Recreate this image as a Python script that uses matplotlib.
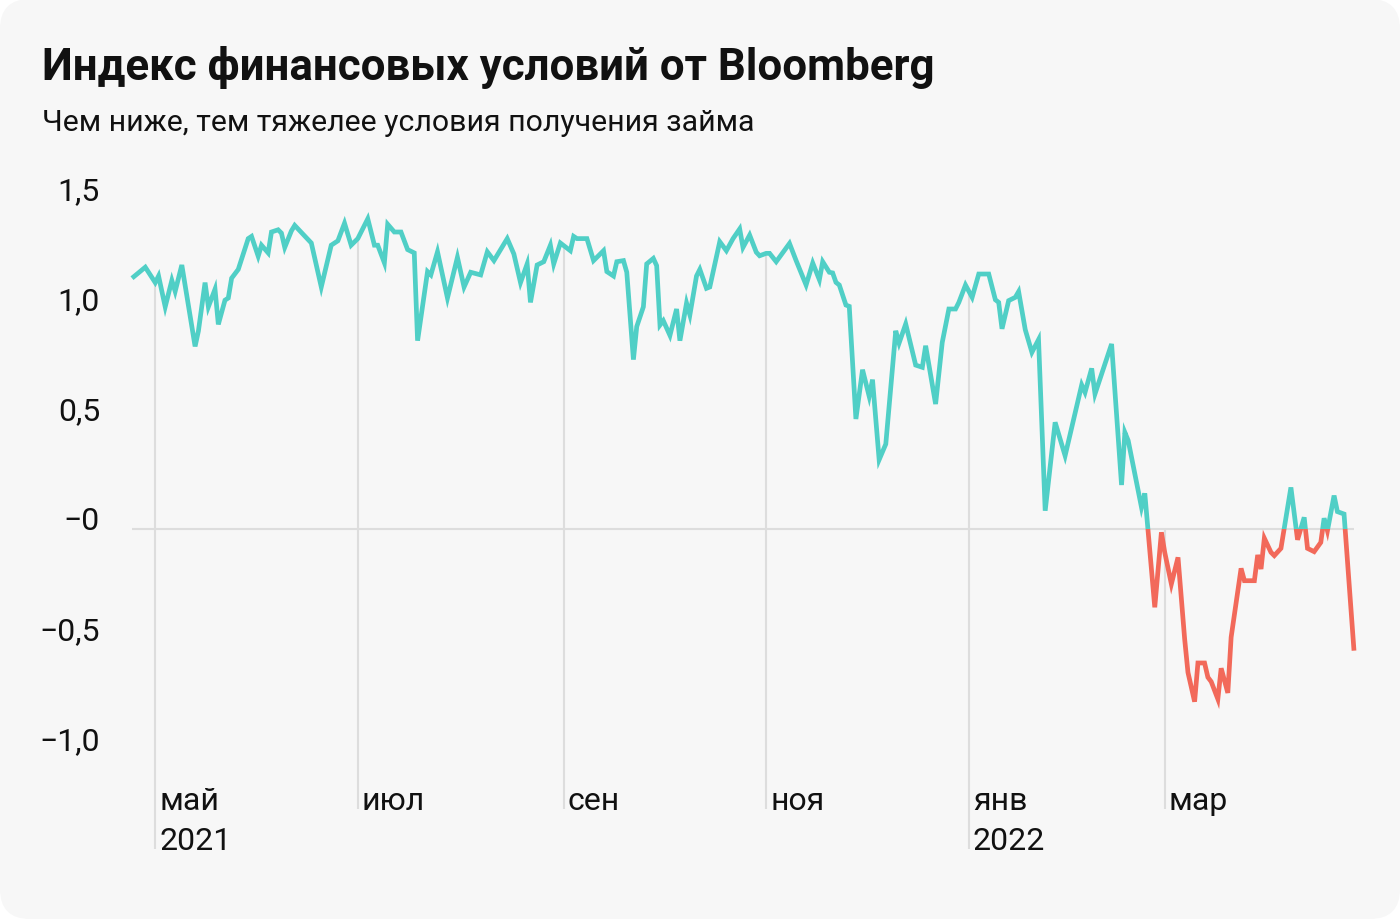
import numpy as np
import pandas as pd
import matplotlib
matplotlib.use("Agg")
import matplotlib.pyplot as plt
import matplotlib.dates as mdates
import matplotlib.transforms as mtransforms
from matplotlib.patches import FancyBboxPatch, Rectangle

plt.rcParams['font.family'] = ['Roboto', 'DejaVu Sans']

# ---------------- data ----------------
title = "Индекс финансовых условий от Bloomberg"
subtitle = "Чем ниже, тем тяжелее условия получения займа"

base_date = "2021-05-01"
day_offsets = [
    -7, -3, 0, 1, 3, 5, 6, 8, 12, 13, 15, 16, 18, 19, 21, 22, 23, 25, 28, 29,
    31, 32, 34, 35, 37, 38, 39, 41, 42, 47, 50, 53, 55, 57, 59, 61, 64, 66, 67, 69,
    70, 72, 74, 76, 78, 79, 82, 83, 85, 88, 91, 93, 95, 98, 100, 102, 106, 108, 110, 112,
    113, 115, 117, 119, 120, 122, 125, 126, 127, 130, 132, 135, 136, 138, 139, 141, 142, 144, 145, 147,
    148, 150, 151, 152, 153, 155, 157, 158, 160, 161, 163, 164, 166, 167, 170, 172, 174, 176, 177, 179,
    181, 182, 184, 185, 187, 191, 193, 196, 198, 200, 201, 203, 204, 205, 206, 208, 209, 211, 213, 215,
    216, 218, 220, 223, 224, 226, 229, 231, 232, 235, 237, 239, 241, 242, 244, 246, 248, 251, 253, 254,
    255, 257, 259, 260, 262, 264, 266, 268, 271, 274, 279, 280, 282, 283, 288, 291, 292, 293, 297, 298,
    301, 303, 304, 306, 308, 310, 311, 313, 314, 316, 317, 318, 320, 321, 323, 324, 327, 328, 331, 332,
    333, 334, 336, 337, 339, 342, 344, 346, 347, 349, 351, 352, 353, 355, 356, 358, 361,
]
index_values = [
    1.14, 1.19, 1.12, 1.15, 1.01, 1.13, 1.08, 1.20, 0.83, 0.90, 1.12, 1.01, 1.09, 0.93, 1.04, 1.05, 1.14, 1.18, 1.32, 1.33,
    1.24, 1.29, 1.255, 1.35, 1.36, 1.345, 1.28, 1.355, 1.38, 1.30, 1.10, 1.29, 1.31, 1.39, 1.29, 1.32, 1.41, 1.29, 1.29, 1.21,
    1.385, 1.35, 1.35, 1.27, 1.255, 0.856, 1.17, 1.155, 1.26, 1.05, 1.235, 1.10, 1.167, 1.155, 1.26, 1.22, 1.32, 1.25, 1.12, 1.205,
    1.03, 1.20, 1.215, 1.29, 1.205, 1.30, 1.265, 1.33, 1.32, 1.32, 1.22, 1.265, 1.17, 1.15, 1.215, 1.22, 1.167, 0.77, 0.92, 1.01,
    1.205, 1.23, 1.197, 0.927, 0.947, 0.88, 1.00, 0.856, 1.027, 0.973, 1.15, 1.18, 1.094, 1.10, 1.306, 1.265, 1.32, 1.364, 1.28, 1.336,
    1.258, 1.242, 1.253, 1.253, 1.215, 1.298, 1.22, 1.109, 1.209, 1.133, 1.215, 1.167, 1.164, 1.121, 1.109, 1.018, 1.012, 0.50, 0.724, 0.603,
    0.679, 0.315, 0.386, 0.901, 0.845, 0.932, 0.745, 0.735, 0.833, 0.568, 0.848, 1.00, 1.00, 1.03, 1.109, 1.053, 1.159, 1.159, 1.042, 1.03,
    0.91, 1.038, 1.053, 1.079, 0.906, 0.803, 0.861, 0.083, 0.485, 0.333, 0.655, 0.621, 0.73, 0.614, 0.841, 0.20, 0.439, 0.402, 0.099, 0.162,
    -0.356, -0.015, -0.106, -0.25, -0.129, -0.50, -0.652, -0.785, -0.609, -0.609, -0.674, -0.694, -0.773, -0.633, -0.745, -0.492, -0.179, -0.235, -0.235, -0.118,
    -0.182, -0.042, -0.106, -0.121, -0.088, 0.189, -0.049, 0.053, -0.088, -0.103, -0.061, 0.049, -0.008, 0.152, 0.079, 0.068, -0.553,
]

ytick_values = [1.5, 1.0, 0.5, 0.0, -0.5, -1.0]
ytick_labels = ["1,5", "1,0", "0,5", "\u22120", "\u22120,5", "\u22121,0"]
month_ticks = ["2021-05-01", "2021-07-01", "2021-09-01", "2021-11-01", "2022-01-01", "2022-03-01"]
month_labels = ["май", "июл", "сен", "ноя", "янв", "мар"]
year_labels = ["2021", "", "", "", "2022", ""]

# ---------------- style ----------------
TEAL = "#50cfc6"
RED = "#f2695a"
GRID = "#dddddd"
CARD = "#f7f7f7"
TXT = "#111111"

dates = pd.to_datetime(base_date) + pd.to_timedelta(day_offsets, unit="D")
xnum = mdates.date2num(dates)
vals = np.array(index_values)

W, H = 1400, 920
fig = plt.figure(figsize=(W / 100, H / 100), dpi=100, facecolor="white")
fig.add_artist(FancyBboxPatch((0, 0), W / 100, H / 100,
                              boxstyle="round,pad=0,rounding_size=0.3",
                              transform=fig.dpi_scale_trans,
                              facecolor=CARD, edgecolor="none", zorder=-5))

ax_left, ax_right, ax_top, ax_bot = 132, 1354, 200, 850
ax = fig.add_axes([ax_left / W, 1 - ax_bot / H, (ax_right - ax_left) / W, (ax_bot - ax_top) / H])
ax.set_facecolor("none")
for s in ax.spines.values():
    s.set_visible(False)

ymax = 1.5
ymin = ymax - (ax_bot - ax_top) / 220.0
ax.set_ylim(ymin, ymax)
ax.set_xlim(xnum[0], xnum[-1])

# zero line
ax.axhline(0, color=GRID, lw=1.5, zorder=1)

# vertical month lines, from the curve (or zero) down to the labels
short_bottom = ymin + 40 / 220.0
for m, yl in zip(month_ticks, year_labels):
    mx = mdates.date2num(pd.Timestamp(m))
    top = max(np.interp(mx, xnum, vals), 0.0)
    bottom = ymin if yl else short_bottom
    ax.vlines(mx, bottom, top, color=GRID, lw=1.5, zorder=1)

# data line: teal above zero, red below
for color, rect in ((TEAL, (xnum[0] - 100, 0, 1000, 100)),
                    (RED, (xnum[0] - 100, -100, 1000, 100))):
    ln, = ax.plot(xnum, vals, color=color, lw=3.4, zorder=3,
                  solid_joinstyle="miter", solid_capstyle="butt")
    clip = Rectangle(rect[:2], rect[2], rect[3], transform=ax.transData)
    ln.set_clip_path(clip)

# y ticks
ax.set_yticks(ytick_values)
ax.set_yticklabels(ytick_labels)
ax.tick_params(axis="y", length=0, pad=23, labelsize=23, labelcolor=TXT)
for lab in ax.get_yticklabels():
    lab.set_verticalalignment("baseline")
ax.set_xticks([])

# x labels
blend = mtransforms.blended_transform_factory(ax.transData, ax.transAxes)
for m, ml, yl in zip(month_ticks, month_labels, year_labels):
    mx = mdates.date2num(pd.Timestamp(m))
    t1 = mtransforms.offset_copy(blend, fig=fig, x=4, y=40, units="dots")
    ax.text(mx, 0, ml, transform=t1, ha="left", va="baseline", fontsize=23, color=TXT)
    if yl:
        t2 = mtransforms.offset_copy(blend, fig=fig, x=4, y=0, units="dots")
        ax.text(mx, 0, yl, transform=t2, ha="left", va="baseline", fontsize=23, color=TXT)

# titles
fig.text(42 / W, 1 - 80 / H, title, fontsize=31.6, fontweight="bold", color=TXT, va="baseline")
fig.text(42 / W, 1 - 131 / H, subtitle, fontsize=21.8, color=TXT, va="baseline")

fig.savefig("out.png", dpi=100, facecolor="white")
